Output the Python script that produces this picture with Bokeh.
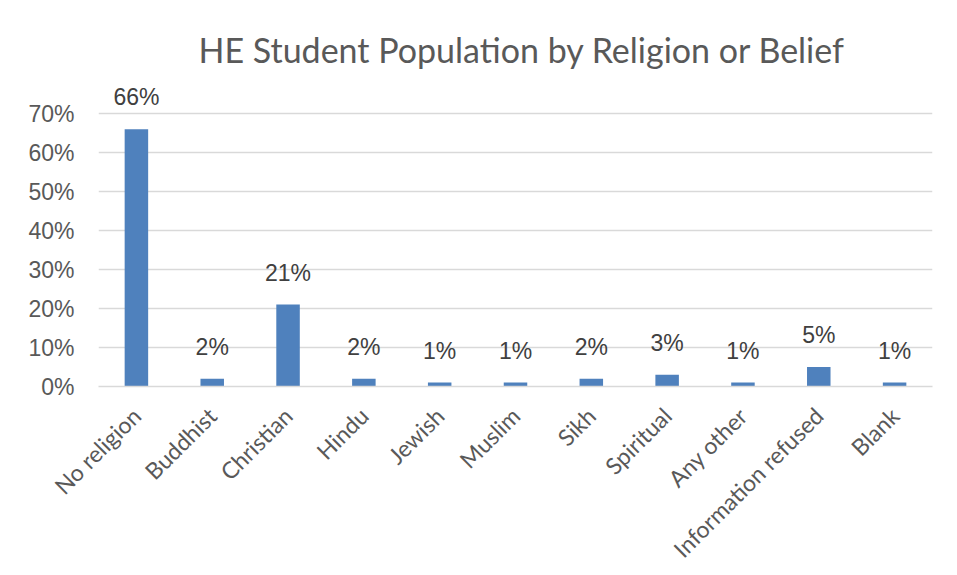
from bokeh.plotting import figure
from bokeh.models import ColumnDataSource, LabelSet, FixedTicker, PrintfTickFormatter, Range1d
from bokeh.core.properties import value
from bokeh.embed import file_html
from bokeh.resources import INLINE
import math

categories = ["No religion", "Buddhist", "Christian", "Hindu", "Jewish", "Muslim",
              "Sikh", "Spiritual", "Any other", "Information refused", "Blank"]
values = [66, 2, 21, 2, 1, 1, 2, 3, 1, 5, 1]
labels = [f"{v}%" for v in values]
y_ticks = [0, 10, 20, 30, 40, 50, 60, 70]

src = ColumnDataSource(data=dict(cat=categories, val=values, lab=labels))

p = figure(x_range=categories, y_range=Range1d(0, 77.2), width=957, height=575,
           output_backend="svg", toolbar_location=None,
           title="HE Student Population by Religion or Belief",
           min_border_left=98, min_border_right=25, min_border_top=85, min_border_bottom=188)

p.title.align = "left"
p.title.offset = 100
p.title.standoff = 32
p.title.text_font = "Lato"
p.title.text_font_style = "normal"
p.title.text_font_size = "34px"
p.title.text_color = "#595959"

p.vbar(x="cat", top="val", width=0.31, source=src, fill_color="#4f81bd", line_color=None)

p.add_layout(LabelSet(x="cat", y="val", text="lab", source=src, text_align="center",
                      text_baseline="alphabetic", y_offset=24,
                      text_font=value("Liberation Sans"), text_font_size=value("23px"),
                      text_color="#404040"))

p.outline_line_color = None
p.background_fill_color = "white"
p.border_fill_color = "white"

p.xgrid.grid_line_color = None
p.ygrid.grid_line_color = "#d9d9d9"
p.ygrid.grid_line_width = 1.5

p.yaxis.ticker = FixedTicker(ticks=y_ticks)
p.yaxis.formatter = PrintfTickFormatter(format="%d%%")
p.yaxis.axis_line_color = None
p.yaxis.major_tick_line_color = None
p.yaxis.minor_tick_line_color = None
p.yaxis.major_label_text_font = "Liberation Sans"
p.yaxis.major_label_text_font_size = "23px"
p.yaxis.major_label_text_color = "#595959"
p.yaxis.major_label_standoff = 18

p.xaxis.axis_line_color = "#d9d9d9"
p.xaxis.axis_line_width = 1.5
p.xaxis.major_tick_line_color = None
p.xaxis.minor_tick_line_color = None
p.xaxis.major_label_orientation = math.pi / 4
p.xaxis.major_label_text_font = "Lato"
p.xaxis.major_label_text_font_size = "23px"
p.xaxis.major_label_text_color = "#595959"
p.xaxis.major_label_standoff = 19
p.x_range.range_padding = 0

open("out.html", "w").write(file_html(p, INLINE))
